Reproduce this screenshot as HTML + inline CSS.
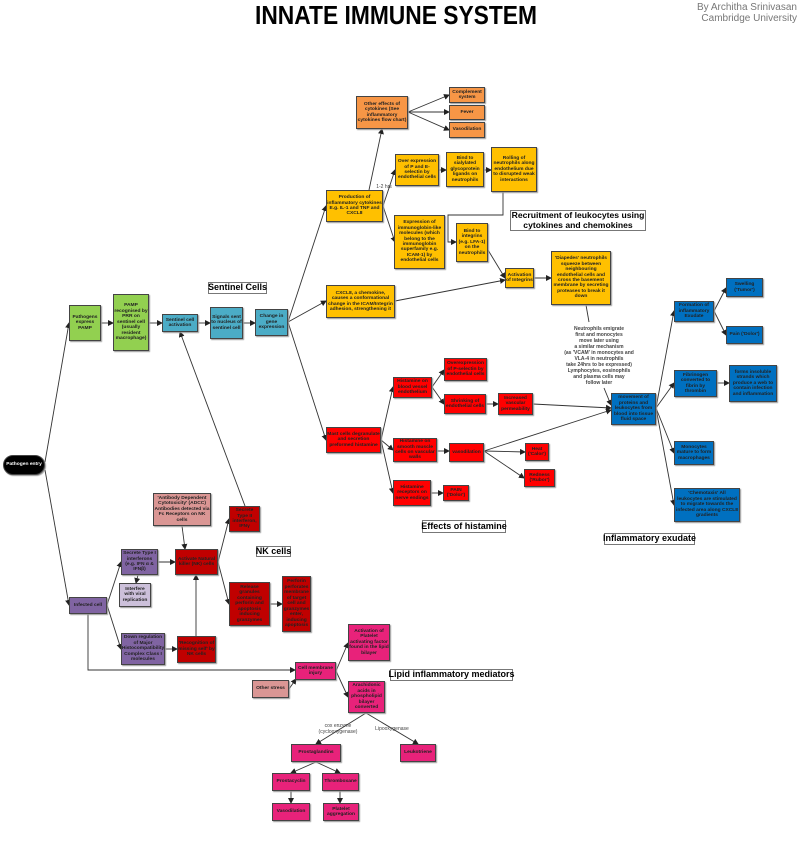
<!DOCTYPE html>
<html><head><meta charset="utf-8"><style>
body{margin:0;width:800px;height:844px;background:#fff;position:relative;overflow:hidden;font-family:"Liberation Sans",sans-serif}
.b{position:absolute;box-sizing:border-box;border:1px solid #444;display:flex;align-items:center;justify-content:center;text-align:center;font-size:4.9px;line-height:1.12;font-weight:bold;color:#222;box-shadow:1px 1px 1px #999;overflow:hidden;padding:0}
.g{background:#92d050}.s{background:#4bacc6}.o{background:#f79646}.y{background:#ffc000}.r{background:#ff0000}.d{background:#0070c0}.n{background:#c00000}.p{background:#8064a2}.lp{background:#ccc0da}.pk{background:#da9694}.m{background:#e8227a}
.l{position:absolute;border:1px solid #777;background:#fff;font-weight:bold;font-size:9px;line-height:1.1;text-align:center;padding:0;white-space:nowrap;box-sizing:border-box;display:flex;align-items:center;justify-content:center}
.t{position:absolute;font-size:5px;line-height:1.2;font-weight:bold;color:#444;text-align:center}
svg{position:absolute;left:0;top:0}
</style></head><body>
<svg width="800" height="844">
<defs><marker id="a" markerWidth="6" markerHeight="6" refX="5" refY="3" orient="auto" markerUnits="userSpaceOnUse"><path d="M0,0L6,3L0,6z" fill="#222"/></marker></defs>
<text x="255" y="24" font-family="Liberation Sans" font-weight="bold" font-size="26" textLength="282" lengthAdjust="spacingAndGlyphs">INNATE IMMUNE SYSTEM</text>
<text x="797" y="10" font-family="Liberation Sans" font-size="10" fill="#777" text-anchor="end">By Architha Srinivasan</text>
<text x="797" y="21" font-family="Liberation Sans" font-size="10" fill="#777" text-anchor="end">Cambridge University</text>
<g stroke="#333" stroke-width="0.9" fill="none" marker-end="url(#a)">
<line x1="45" y1="462" x2="69" y2="323"/>
<line x1="45" y1="470" x2="69" y2="605"/>
<line x1="101" y1="323" x2="113" y2="323"/>
<line x1="149" y1="323" x2="162" y2="323"/>
<line x1="198" y1="323" x2="210" y2="323"/>
<line x1="243" y1="323" x2="255" y2="323"/>
<line x1="288" y1="322" x2="326" y2="206"/>
<line x1="288" y1="322" x2="326" y2="301"/>
<line x1="288" y1="322" x2="326" y2="440"/>
<line x1="369" y1="190" x2="382" y2="129"/>
<line x1="408" y1="112" x2="449" y2="95"/>
<line x1="408" y1="112" x2="449" y2="112"/>
<line x1="408" y1="112" x2="449" y2="130"/>
<line x1="383" y1="206" x2="395" y2="170"/>
<line x1="383" y1="206" x2="395" y2="242"/>
<line x1="439" y1="170" x2="446" y2="170"/>
<line x1="484" y1="170" x2="491" y2="170"/>
<polyline points="503,192 503,215 448,215 448,242 456,242"/>
<line x1="488" y1="250" x2="505" y2="278"/>
<line x1="395" y1="301" x2="505" y2="280"/>
<line x1="534" y1="278" x2="551" y2="278"/>
<line x1="604" y1="388" x2="611" y2="405"/>
<line x1="245" y1="506" x2="180" y2="332"/>
<line x1="381" y1="440" x2="393" y2="387"/>
<line x1="381" y1="440" x2="393" y2="450"/>
<line x1="381" y1="440" x2="393" y2="493"/>
<line x1="432" y1="387" x2="444" y2="370"/>
<line x1="432" y1="387" x2="444" y2="404"/>
<line x1="486" y1="404" x2="498" y2="404"/>
<line x1="533" y1="404" x2="611" y2="408"/>
<line x1="437" y1="451" x2="449" y2="451"/>
<line x1="484" y1="451" x2="611" y2="410"/>
<line x1="484" y1="451" x2="525" y2="452"/>
<line x1="484" y1="451" x2="524" y2="478"/>
<line x1="431" y1="493" x2="443" y2="493"/>
<line x1="656" y1="408" x2="674" y2="311"/>
<line x1="656" y1="408" x2="674" y2="383"/>
<line x1="656" y1="408" x2="674" y2="453"/>
<line x1="656" y1="408" x2="674" y2="505"/>
<line x1="714" y1="311" x2="726" y2="288"/>
<line x1="714" y1="311" x2="726" y2="335"/>
<line x1="717" y1="383" x2="729" y2="383"/>
<line x1="107" y1="605" x2="121" y2="562"/>
<line x1="107" y1="605" x2="121" y2="649"/>
<polyline points="88,614 88,670 295,670"/>
<line x1="138" y1="575" x2="136" y2="583"/>
<line x1="158" y1="562" x2="175" y2="562"/>
<line x1="182" y1="526" x2="185" y2="549"/>
<line x1="218" y1="562" x2="229" y2="519"/>
<line x1="218" y1="562" x2="229" y2="604"/>
<line x1="270" y1="604" x2="282" y2="604"/>
<line x1="165" y1="649" x2="177" y2="649"/>
<line x1="196" y1="636" x2="196" y2="575"/>
<line x1="289" y1="689" x2="296" y2="679"/>
<line x1="336" y1="671" x2="348" y2="643"/>
<line x1="336" y1="671" x2="348" y2="697"/>
<line x1="366" y1="713" x2="316" y2="744"/>
<line x1="366" y1="713" x2="418" y2="744"/>
<line x1="316" y1="762" x2="291" y2="773"/>
<line x1="316" y1="762" x2="340" y2="773"/>
<line x1="291" y1="791" x2="291" y2="803"/>
<line x1="340" y1="791" x2="340" y2="803"/>
</g>
<line x1="586" y1="305" x2="589" y2="322" stroke="#333" stroke-width="0.9"/>
</svg>

<div class="b" style="left:3px;top:455px;width:42px;height:20px;background:#000;color:#fff;border-radius:10px">Pathogen entry</div>
<div class="b g" style="left:69px;top:305px;width:32px;height:36px">Pathogens express PAMP</div>
<div class="b g" style="left:113px;top:294px;width:36px;height:57px">PAMP recognised by PRR on sentinel cell (usually resident macrophage)</div>
<div class="b s" style="left:162px;top:314px;width:36px;height:18px">Sentinel cell activation</div>
<div class="b s" style="left:210px;top:307px;width:33px;height:32px">Signals sent to nucleus of sentinel cell</div>
<div class="b s" style="left:255px;top:309px;width:33px;height:27px">Change in gene expression</div>
<div class="l" style="left:208px;top:282px;width:59px;height:12px">Sentinel Cells</div>

<div class="b o" style="left:356px;top:96px;width:52px;height:33px">Other effects of cytokines (See inflammatory cytokines flow chart)</div>
<div class="b o" style="left:449px;top:87px;width:36px;height:16px">Complement system</div>
<div class="b o" style="left:449px;top:105px;width:36px;height:15px">Fever</div>
<div class="b o" style="left:449px;top:122px;width:36px;height:16px">Vasodilation</div>

<div class="b y" style="left:326px;top:190px;width:57px;height:32px">Production of inflammatory cytokines E.g. IL-1 and TNF and CXCL8</div>
<div class="t" style="left:372px;top:184px;width:24px;font-weight:normal">1-2 hrs</div>
<div class="b y" style="left:395px;top:154px;width:44px;height:32px">Over expression of P and E-selectin by endothelial cells</div>
<div class="b y" style="left:446px;top:152px;width:38px;height:35px">Bind to sialylated glycoprotein ligands on neutrophils</div>
<div class="b y" style="left:491px;top:147px;width:46px;height:45px">Rolling of neutrophils along endothelium due to disrupted weak interactions</div>
<div class="l" style="left:510px;top:210px;width:136px;height:21px;font-size:8.6px">Recruitment of leukocytes using<br>cytokines and chemokines</div>
<div class="b y" style="left:394px;top:215px;width:51px;height:54px">Expression of immunoglobin-like molecules (which belong to the immunoglobin superfamily e.g. ICAM-1) by endothelial cells</div>
<div class="b y" style="left:456px;top:223px;width:32px;height:39px">Bind to integrins (e.g. LFA-1) on the neutrophils</div>
<div class="b y" style="left:505px;top:268px;width:29px;height:20px">Activation of Integrins</div>
<div class="b y" style="left:551px;top:251px;width:60px;height:54px">'Diapedes' neutrophils squeeze between neighbouring endothelial cells and cross the basement membrane by secreting proteases to break it down</div>
<div class="b y" style="left:326px;top:285px;width:69px;height:33px">CXCL8, a chemokine, causes a conformational change in the ICAM/Integrin adhesion, strengthening it</div>
<div class="t" style="left:553px;top:326px;width:92px">Neutrophils emigrate<br>first and monocytes<br>move later using<br>a similar mechanism<br>(as 'VCAM' in monocytes and<br>VLA-4 in neutrophils<br>take 24hrs to be expressed)<br>Lymphocytes, eosinophils<br>and plasma cells may<br>follow later</div>

<div class="b r" style="left:326px;top:427px;width:55px;height:26px">Mast cells degranulate and secretion preformed histamine</div>
<div class="b r" style="left:393px;top:377px;width:39px;height:21px">Histamine on blood vessel endothelium</div>
<div class="b r" style="left:444px;top:358px;width:43px;height:23px">Overexpression of P-selectin by endothelial cells</div>
<div class="b r" style="left:444px;top:394px;width:42px;height:20px">Shrinking of endothelial cells</div>
<div class="b r" style="left:498px;top:393px;width:35px;height:22px">Increased vascular permeability</div>
<div class="b r" style="left:393px;top:438px;width:44px;height:24px">Histamine on smooth muscle cells on vascular walls</div>
<div class="b r" style="left:449px;top:443px;width:35px;height:19px">vasodilation</div>
<div class="b r" style="left:525px;top:443px;width:24px;height:18px">Heat ('Calor')</div>
<div class="b r" style="left:524px;top:469px;width:31px;height:18px">Redness ('Rubor')</div>
<div class="b r" style="left:393px;top:480px;width:38px;height:26px">Histamine receptors on nerve endings</div>
<div class="b r" style="left:443px;top:485px;width:26px;height:16px">PAIN ('Dolor')</div>
<div class="l" style="left:422px;top:520px;width:84px;height:13px">Effects of histamine</div>

<div class="b d" style="left:611px;top:393px;width:45px;height:32px">movement of proteins and leukocytes from blood into tissue fluid space</div>
<div class="b d" style="left:674px;top:301px;width:40px;height:21px">Formation of inflammatory Exudate</div>
<div class="b d" style="left:726px;top:278px;width:37px;height:19px">Swelling ('Tumor')</div>
<div class="b d" style="left:726px;top:326px;width:37px;height:18px">Pain ('Dolor')</div>
<div class="b d" style="left:674px;top:370px;width:43px;height:27px">Fibrinogen converted to fibrin by thrombin</div>
<div class="b d" style="left:729px;top:365px;width:48px;height:37px">forms insoluble strands which produce a web to contain infection and inflammation</div>
<div class="b d" style="left:674px;top:441px;width:40px;height:24px">Monocytes mature to form macrophages</div>
<div class="b d" style="left:674px;top:488px;width:66px;height:34px">'Chemotaxis' All leukocytes are stimulated to migrate towards the infected area along CXCL8 gradients</div>
<div class="l" style="left:604px;top:533px;width:91px;height:12px">Inflammatory exudate</div>

<div class="b pk" style="left:153px;top:493px;width:58px;height:33px">'Antibody Dependent Cytotoxicity' (ADCC) Antibodies detected via Fc Receptors on NK cells</div>
<div class="b n" style="left:229px;top:506px;width:31px;height:26px">Secrete Type II interferon, IFNγ</div>
<div class="b p" style="left:121px;top:549px;width:37px;height:26px">Secrete Type I interferons (e.g. IFN α &amp; IFNβ)</div>
<div class="b n" style="left:175px;top:549px;width:43px;height:26px">Activate Natural killer (NK) cells</div>
<div class="l" style="left:256px;top:546px;width:35px;height:11px">NK cells</div>
<div class="b lp" style="left:119px;top:583px;width:32px;height:24px">Interfere with viral replication</div>
<div class="b p" style="left:69px;top:597px;width:38px;height:17px">Infected cell</div>
<div class="b n" style="left:229px;top:582px;width:41px;height:44px">Release granules containing perforin and apoptosis inducing granzymes</div>
<div class="b n" style="left:282px;top:576px;width:29px;height:56px">Perforin perforates membrane of target cell and granzymes enter, inducing apoptosis</div>
<div class="b p" style="left:121px;top:633px;width:44px;height:32px">Down regulation of Major Histocompatibility Complex Class I molecules</div>
<div class="b n" style="left:177px;top:636px;width:39px;height:27px">'Recognition of missing self' by NK cells</div>

<div class="b m" style="left:295px;top:662px;width:41px;height:18px">Cell membrane injury</div>
<div class="b pk" style="left:252px;top:680px;width:37px;height:18px">Other stress</div>
<div class="b m" style="left:348px;top:624px;width:42px;height:37px">Activation of Platelet activating factor found in the lipid bilayer</div>
<div class="b m" style="left:348px;top:681px;width:37px;height:32px">Arachidonic acids in phospholipid bilayer converted</div>
<div class="l" style="left:390px;top:669px;width:123px;height:12px">Lipid inflammatory mediators</div>
<div class="t" style="left:313px;top:723px;width:50px;font-weight:normal">cox enzyme (cyclooxygenase)</div>
<div class="t" style="left:370px;top:726px;width:44px;font-weight:normal">Lipooxygenase</div>
<div class="b m" style="left:291px;top:744px;width:50px;height:18px">Prostaglandins</div>
<div class="b m" style="left:400px;top:744px;width:36px;height:18px">Leukotriene</div>
<div class="b m" style="left:272px;top:773px;width:38px;height:18px">Prostacyclin</div>
<div class="b m" style="left:322px;top:773px;width:37px;height:18px">Thromboxane</div>
<div class="b m" style="left:272px;top:803px;width:38px;height:18px">Vasodilation</div>
<div class="b m" style="left:323px;top:803px;width:36px;height:18px">Platelet aggregation</div>
</body></html>
